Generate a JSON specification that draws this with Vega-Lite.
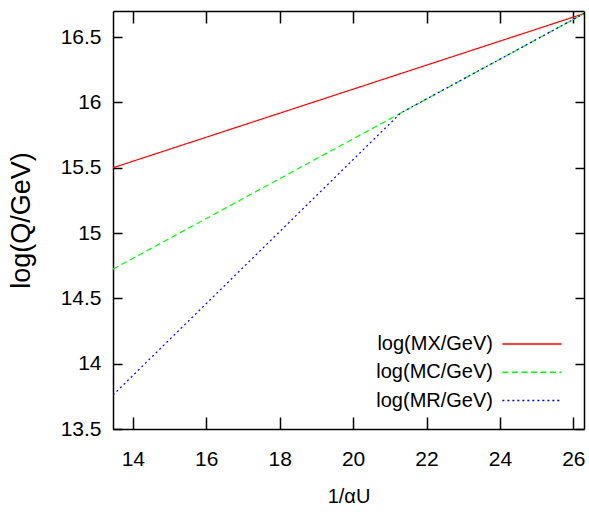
{
  "$schema": "https://vega.github.io/schema/vega-lite/v6.json",
  "width": 471,
  "height": 418,
  "autosize": {"type": "none"},
  "padding": {"left": 113, "top": 11, "right": 5, "bottom": 85},
  "background": "white",
  "config": {
    "view": {"stroke": null},
    "axis": {
      "grid": false,
      "domainColor": "black",
      "domainWidth": 1.5,
      "tickColor": "black",
      "tickWidth": 1.5,
      "labelFont": "Liberation Sans",
      "labelFontSize": 21,
      "labelColor": "black",
      "titleColor": "black",
      "titleFontWeight": "normal"
    },
    "legend": {
      "labelFont": "Liberation Sans",
      "labelFontSize": 20,
      "labelColor": "black"
    }
  },
  "datasets": {
    "lines": [
      {"series": "log(MX/GeV)", "x": 13.46, "y": 15.5},
      {"series": "log(MX/GeV)", "x": 26.29, "y": 16.68},
      {"series": "log(MC/GeV)", "x": 13.46, "y": 14.724},
      {"series": "log(MC/GeV)", "x": 26.29, "y": 16.68},
      {"series": "log(MR/GeV)", "x": 13.46, "y": 13.76},
      {"series": "log(MR/GeV)", "x": 21.3, "y": 15.92},
      {"series": "log(MR/GeV)", "x": 26.29, "y": 16.68}
    ]
  },
  "data": {"name": "lines"},
  "layer": [
    {
      "mark": {"type": "line", "strokeWidth": 1.2, "clip": true},
      "encoding": {
        "x": {
          "field": "x",
          "type": "quantitative",
          "scale": {"domain": [13.46, 26.29], "nice": false, "zero": false},
          "axis": {
            "orient": "bottom",
            "values": [14, 16, 18, 20, 22, 24, 26],
            "tickSize": -12,
            "labelPadding": 31,
            "title": "1/αU",
            "titleFont": "Liberation Sans",
            "titleFontSize": 20,
            "titlePadding": 17
          }
        },
        "y": {
          "field": "y",
          "type": "quantitative",
          "scale": {"domain": [13.5, 16.7], "nice": false, "zero": false},
          "axis": {
            "orient": "left",
            "values": [13.5, 14, 14.5, 15, 15.5, 16, 16.5],
            "format": ".1~f",
            "tickSize": -9,
            "labelPadding": 21,
            "title": "log(Q/GeV)",
            "titleFont": "Liberation Sans",
            "titleFontSize": 27,
            "titlePadding": 25
          }
        },
        "color": {
          "field": "series",
          "type": "nominal",
          "scale": {
            "domain": ["log(MX/GeV)", "log(MC/GeV)", "log(MR/GeV)"],
            "range": ["#ff0000", "#00ff00", "#0000ff"]
          },
          "legend": {
            "title": null,
            "orient": "none",
            "legendX": 409,
            "legendY": 323,
            "padding": 0,
            "symbolType": "M-5.2,0H5.2",
            "symbolSize": 130,
            "symbolStrokeWidth": 1.5,
            "labelAlign": "right",
            "labelOffset": -49,
            "rowPadding": 8.3
          }
        },
        "strokeDash": {
          "field": "series",
          "type": "nominal",
          "scale": {
            "domain": ["log(MX/GeV)", "log(MC/GeV)", "log(MR/GeV)"],
            "range": [[1, 0], [6, 3.5], [2, 3]]
          },
          "legend": {
            "title": null,
            "orient": "none",
            "legendX": 409,
            "legendY": 323,
            "padding": 0,
            "symbolType": "M-5.2,0H5.2",
            "symbolSize": 130,
            "symbolStrokeWidth": 1.5,
            "labelAlign": "right",
            "labelOffset": -49,
            "rowPadding": 8.3
          }
        }
      }
    },
    {
      "mark": {"type": "line", "opacity": 0},
      "encoding": {
        "x": {
          "field": "x",
          "type": "quantitative",
          "axis": {
            "orient": "top",
            "values": [14, 16, 18, 20, 22, 24, 26],
            "tickSize": -12,
            "labels": false,
            "title": null
          }
        },
        "y": {
          "field": "y",
          "type": "quantitative",
          "axis": {
            "orient": "right",
            "values": [13.5, 14, 14.5, 15, 15.5, 16, 16.5],
            "tickSize": -9,
            "labels": false,
            "title": null
          }
        }
      }
    }
  ],
  "resolve": {"axis": {"x": "independent", "y": "independent"}}
}
